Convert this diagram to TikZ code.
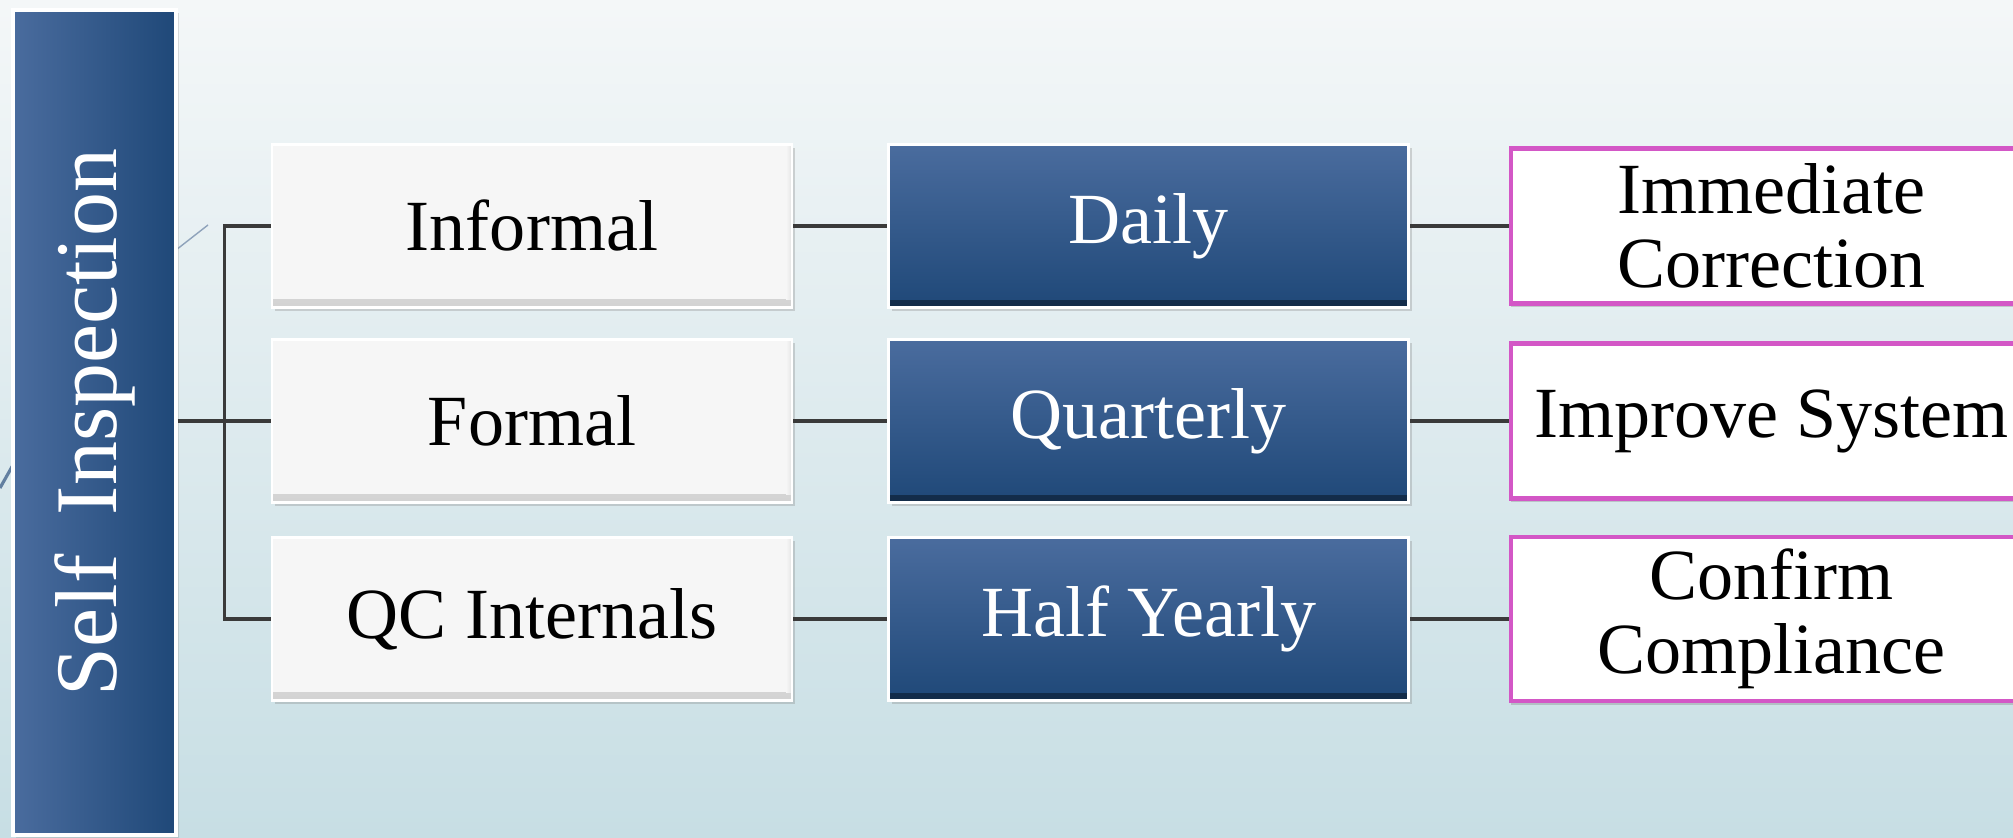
\documentclass[tikz,border=0pt]{standalone}
\usepackage{fontspec}
\setmainfont{Liberation Serif}
\usetikzlibrary{positioning,shadows,calc}
\definecolor{bgtop}{HTML}{F4F7F8}
\definecolor{bgbot}{HTML}{C7DEE4}
\definecolor{navylt}{HTML}{4A6C9E}
\definecolor{navydk}{HTML}{1F4878}
\definecolor{rim}{HTML}{D357C6}
\definecolor{wire}{HTML}{3A3A3A}
\begin{document}
\begin{tikzpicture}[
    wire/.style={draw=wire, line width=1pt},
    kindbox/.style={draw=white, line width=0.8pt, fill=gray!7, minimum width=5.2cm, minimum height=1.63cm,
      font=\fontsize{20.5}{22}\selectfont,
      drop shadow={shadow xshift=0.03cm, shadow yshift=-0.04cm, opacity=0.3},
      path picture={\shade[top color=gray!7, bottom color=gray!35] ([yshift=0.08cm]path picture bounding box.south west) rectangle (path picture bounding box.south east);
        \shade[left color=gray!7, right color=gray!22] ([xshift=-0.06cm]path picture bounding box.north east) rectangle ([yshift=0.08cm]path picture bounding box.south east);}},
    freqbox/.style={kindbox, top color=navylt, bottom color=navydk, text=white,
      path picture={\shade[top color=navydk, bottom color=navydk!60!black] ([yshift=0.07cm]path picture bounding box.south west) rectangle (path picture bounding box.south east);}},
    goalbox/.style={draw=rim, line width=1.2pt, fill=white, minimum width=5.2cm, minimum height=1.55cm, align=center,
      font=\fontsize{20.5}{21}\selectfont,
      drop shadow={shadow xshift=0cm, shadow yshift=-0.04cm, opacity=0.35}},
    selfbox/.style={draw=white, line width=1pt, left color=navylt, right color=navydk, text=white,
      minimum width=1.63cm, minimum height=8.25cm, font=\fontsize{25}{27}\selectfont,
      drop shadow={shadow xshift=0.03cm, shadow yshift=-0.03cm, opacity=0.25}}]
    \useasboundingbox (0,0) rectangle (20.13,8.38);
    % background
    \shade[top color=bgtop, bottom color=bgbot] (0,0) rectangle (20.13,8.38);
    \draw[navydk!70, line width=0.9pt] (0,3.50) -- (0.13,3.73);
    \draw[navydk!50, line width=0.4pt] (1.76,5.88) -- (2.08,6.13);
    \node[selfbox] (self) at (0.945,4.155) {\rotatebox{90}{Self\hspace{0.2em} Inspection}};
    \foreach \i/\y/\k/\f/\g in {1/6.12/Informal/Daily/{Immediate\\Correction},
                                2/4.17/Formal/Quarterly/Improve System,
                                3/2.19/QC Internals/Half Yearly/{Confirm\\Compliance}}{
        \node[kindbox] (kind\i) at (5.32,\y) {\k};
        \node[freqbox, right=0.94cm of kind\i] (freq\i) {\f};
        \node[goalbox, right=0.99cm of freq\i] (goal\i) {\g};
        \draw[wire] (kind\i) -- (freq\i);
        \draw[wire] (freq\i) -- (goal\i);
    }
    % fork to the three kinds
    \coordinate (fork) at ($(kind2.west)+(-0.46,0)$);
    \draw[wire] (self.east |- kind2.west) -- (kind2.west);
    \draw[wire] (kind1.west) -| (fork) |- (kind3.west);
\end{tikzpicture}
\end{document}
